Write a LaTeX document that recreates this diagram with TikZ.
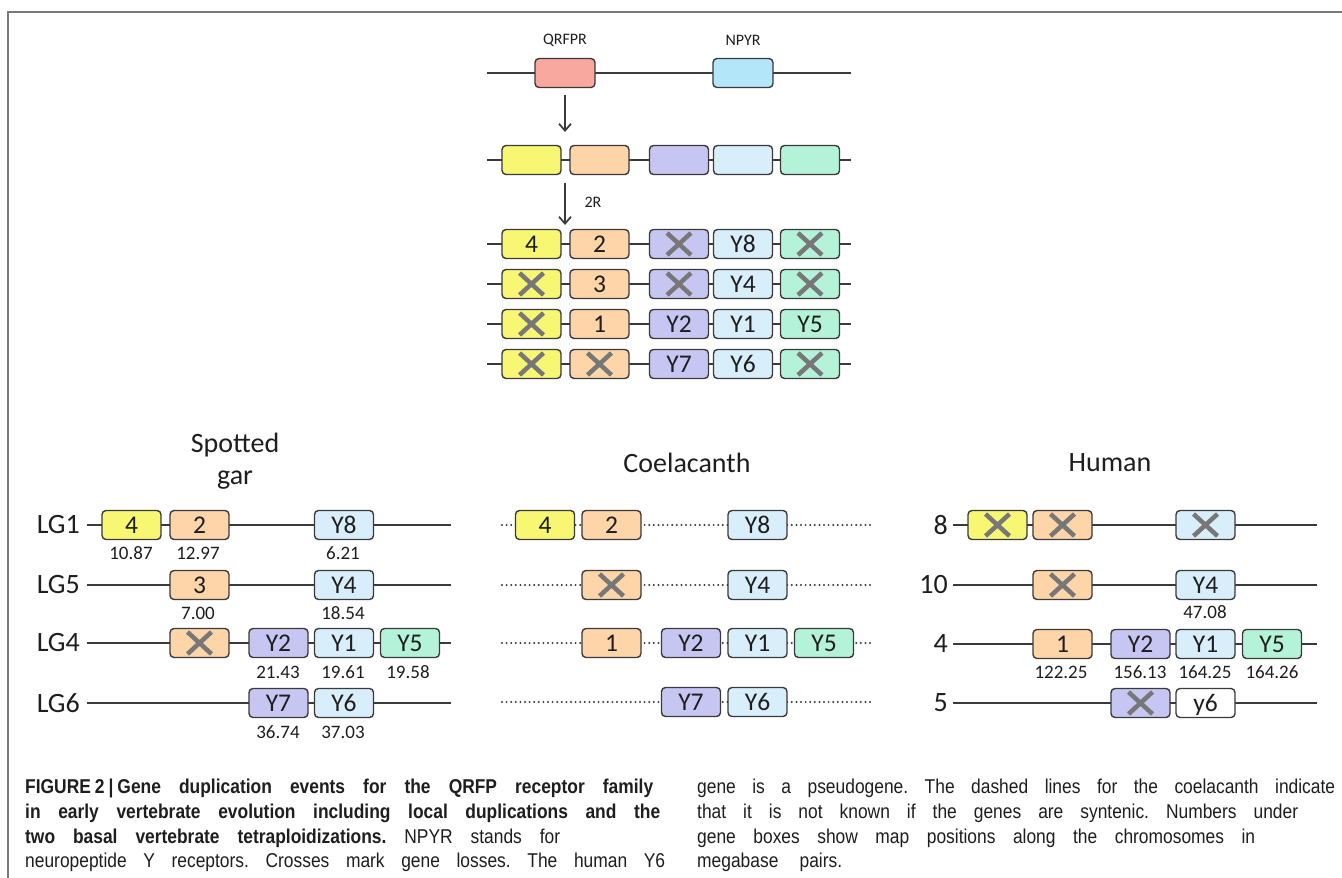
\documentclass[tikz,border=0pt]{standalone}
\usepackage{fontspec}
\setmainfont{Carlito}
\newfontfamily\capfont[FakeStretch=0.87]{Liberation Sans}
\usetikzlibrary{arrows.meta}
\definecolor{cyel}{HTML}{F8F774}
\definecolor{corg}{HTML}{FDD5A9}
\definecolor{cpur}{HTML}{C7C6F2}
\definecolor{cblu}{HTML}{D9EEFB}
\definecolor{cgrn}{HTML}{B4F3DA}
\definecolor{cqr}{HTML}{F9A8A0}
\definecolor{cnp}{HTML}{B3E6F9}
\definecolor{cline}{HTML}{3A3A3A}
\definecolor{xgray}{HTML}{777777}
\definecolor{ctext}{HTML}{1E1E1E}
\definecolor{cframe}{HTML}{7A7A7A}
\begin{document}
\frenchspacing
\begin{tikzpicture}[x=1pt,y=-1pt,
  gene/.style={draw=cline, line width=1.4pt, rounded corners=4pt,
    minimum width=59pt, minimum height=29pt, inner sep=0pt, text=ctext,
    font=\fontsize{25.5}{25.5}\selectfont, text height=16pt, text depth=0pt},
  gone/.style={path picture={
    \draw[line width=4.5pt, draw=xgray]
      ([xshift=-12pt,yshift=-11pt]path picture bounding box.center) --
      ([xshift=12pt,yshift=11pt]path picture bounding box.center)
      ([xshift=-12pt,yshift=11pt]path picture bounding box.center) --
      ([xshift=12pt,yshift=-11pt]path picture bounding box.center);}},
  chrom/.style={draw=cline, line width=1.5pt},
  dotchrom/.style={draw=cline, line width=2.2pt, line cap=round,
    dash pattern=on 0pt off 4.6pt},
  arr/.style={draw=cline, line width=1.7pt, -{Straight Barb[length=7pt,width=12pt,line width=1.7pt]}},
  small/.style={font=\fontsize{16}{16}\selectfont, text=ctext, inner sep=0pt},
  num/.style={font=\fontsize{19}{19}\selectfont, text=ctext, inner sep=0pt},
  big/.style={font=\fontsize{28}{32}\selectfont, text=ctext, inner sep=0pt},
  capline/.style={font=\capfont\fontsize{20}{22}\selectfont, text=ctext, inner sep=0pt, anchor=base west}
]
\useasboundingbox (0,0) rectangle (1342,878);
\fill[white] (0,0) rectangle (1342,878);
% frame
\draw[cframe, line width=2pt] (8,878) -- (8,12) -- (1342,12);

% ---------- top: ancestral ----------
\node[small] (lq) at (565,40) {QRFPR};
\node[small] (ln) at (743,40) {NPYR};
\coordinate (t0s) at (487,73); \coordinate (t0e) at (851,73);
\draw[chrom] (t0s) -- (t0e);
\node[gene, fill=cqr, minimum width=60pt] (qr) at (565,73) {};
\node[gene, fill=cnp, minimum width=60pt] (np) at (743,73) {};

\coordinate (a1s) at (565,95); \coordinate (a1e) at (565,132);
\draw[arr] (a1s) -- (a1e);

% local duplication row
\coordinate (t1s) at (487,160); \coordinate (t1e) at (851,160);
\draw[chrom] (t1s) -- (t1e);
\node[gene, fill=cyel] (d1) at (531.5,160) {};
\node[gene, fill=corg] (d2) at (599.5,160) {};
\node[gene, fill=cpur] (d3) at (679,160) {};
\node[gene, fill=cblu] (d4) at (743,160) {};
\node[gene, fill=cgrn] (d5) at (810,160) {};

\coordinate (a2s) at (565,183); \coordinate (a2e) at (565,225);
\draw[arr] (a2s) -- (a2e);
\node[small] (l2r) at (593,202) {2R};

% 2R rows
\coordinate (r1s) at (487,244); \coordinate (r1e) at (851,244);
\draw[chrom] (r1s) -- (r1e);
\node[gene, fill=cyel] (a11) at (531.5,244) {4};
\node[gene, fill=corg] (a12) at (599.5,244) {2};
\node[gene, fill=cpur, gone] (a13) at (679,244) {};
\node[gene, fill=cblu] (a14) at (743,244) {Y8};
\node[gene, fill=cgrn, gone] (a15) at (810,244) {};

\coordinate (r2s) at (487,284); \coordinate (r2e) at (851,284);
\draw[chrom] (r2s) -- (r2e);
\node[gene, fill=cyel, gone] (a21) at (531.5,284) {};
\node[gene, fill=corg] (a22) at (599.5,284) {3};
\node[gene, fill=cpur, gone] (a23) at (679,284) {};
\node[gene, fill=cblu] (a24) at (743,284) {Y4};
\node[gene, fill=cgrn, gone] (a25) at (810,284) {};

\coordinate (r3s) at (487,324); \coordinate (r3e) at (851,324);
\draw[chrom] (r3s) -- (r3e);
\node[gene, fill=cyel, gone] (a31) at (531.5,324) {};
\node[gene, fill=corg] (a32) at (599.5,324) {1};
\node[gene, fill=cpur] (a33) at (679,324) {Y2};
\node[gene, fill=cblu] (a34) at (743,324) {Y1};
\node[gene, fill=cgrn] (a35) at (810,324) {Y5};

\coordinate (r4s) at (487,364); \coordinate (r4e) at (851,364);
\draw[chrom] (r4s) -- (r4e);
\node[gene, fill=cyel, gone] (a41) at (531.5,364) {};
\node[gene, fill=corg, gone] (a42) at (599.5,364) {};
\node[gene, fill=cpur] (a43) at (679,364) {Y7};
\node[gene, fill=cblu] (a44) at (743,364) {Y6};
\node[gene, fill=cgrn, gone] (a45) at (810,364) {};

% ---------- Spotted gar ----------
\node[big, align=center] (tgar) at (235,461) {Spotted\\gar};
\node[big, anchor=east] (lg1) at (80,525) {LG1};
\node[big, anchor=east] (lg5) at (80,585) {LG5};
\node[big, anchor=east] (lg4) at (80,643) {LG4};
\node[big, anchor=east] (lg6) at (80,703) {LG6};

\coordinate (g1s) at (87,525); \coordinate (g1e) at (451,525);
\draw[chrom] (g1s) -- (g1e);
\node[gene, fill=cyel] (g11) at (131.5,525) {4};
\node[gene, fill=corg] (g12) at (199.5,525) {2};
\node[gene, fill=cblu] (g14) at (344,525) {Y8};
\node[num] (n11) at (131,553) {10.87};
\node[num] (n12) at (198,553) {12.97};
\node[num] (n14) at (343,553) {6.21};

\coordinate (g2s) at (87,585); \coordinate (g2e) at (451,585);
\draw[chrom] (g2s) -- (g2e);
\node[gene, fill=corg] (g22) at (199.5,585) {3};
\node[gene, fill=cblu] (g24) at (344,585) {Y4};
\node[num] (n22) at (198,613) {7.00};
\node[num] (n24) at (343,613) {18.54};

\coordinate (g3s) at (87,643); \coordinate (g3e) at (451,643);
\draw[chrom] (g3s) -- (g3e);
\node[gene, fill=corg, gone] (g32) at (199.5,643) {};
\node[gene, fill=cpur] (g33) at (278.5,643) {Y2};
\node[gene, fill=cblu] (g34) at (344,643) {Y1};
\node[gene, fill=cgrn] (g35) at (410,643) {Y5};
\node[num] (n33) at (278,672) {21.43};
\node[num] (n34) at (343,672) {19.61};
\node[num] (n35) at (408,672) {19.58};

\coordinate (g4s) at (87,703); \coordinate (g4e) at (451,703);
\draw[chrom] (g4s) -- (g4e);
\node[gene, fill=cpur] (g43) at (278.5,703) {Y7};
\node[gene, fill=cblu] (g44) at (344,703) {Y6};
\node[num] (n43) at (278,732) {36.74};
\node[num] (n44) at (343,732) {37.03};

% ---------- Coelacanth ----------
\node[big] (tcoe) at (687,463) {Coelacanth};
\coordinate (c1s) at (502,525); \coordinate (c1e) at (873,525);
\draw[dotchrom] (c1s) -- (c1e);
\node[gene, fill=cyel] (c11) at (545,525) {4};
\node[gene, fill=corg] (c12) at (611.5,525) {2};
\node[gene, fill=cblu] (c14) at (757.5,525) {Y8};

\coordinate (c2s) at (502,585); \coordinate (c2e) at (873,585);
\draw[dotchrom] (c2s) -- (c2e);
\node[gene, fill=corg, gone] (c22) at (611.5,585) {};
\node[gene, fill=cblu] (c24) at (757.5,585) {Y4};

\coordinate (c3s) at (502,643); \coordinate (c3e) at (873,643);
\draw[dotchrom] (c3s) -- (c3e);
\node[gene, fill=corg] (c32) at (611.5,643) {1};
\node[gene, fill=cpur] (c33) at (691,643) {Y2};
\node[gene, fill=cblu] (c34) at (757.5,643) {Y1};
\node[gene, fill=cgrn] (c35) at (824,643) {Y5};

\coordinate (c4s) at (502,702); \coordinate (c4e) at (873,702);
\draw[dotchrom] (c4s) -- (c4e);
\node[gene, fill=cpur] (c43) at (691,702) {Y7};
\node[gene, fill=cblu] (c44) at (757.5,702) {Y6};

% ---------- Human ----------
\node[big] (thum) at (1110,463) {Human};
\node[big, anchor=east] (h8) at (948,525) {8};
\node[big, anchor=east] (h10) at (948,585) {10};
\node[big, anchor=east] (h4) at (948,644) {4};
\node[big, anchor=east] (h5) at (948,703) {5};

\coordinate (h1s) at (953,525); \coordinate (h1e) at (1317,525);
\draw[chrom] (h1s) -- (h1e);
\node[gene, fill=cyel, gone] (h11) at (997.5,525) {};
\node[gene, fill=corg, gone] (h12) at (1062.5,525) {};
\node[gene, fill=cblu, gone] (h14) at (1205.5,525) {};

\coordinate (h2s) at (953,585); \coordinate (h2e) at (1317,585);
\draw[chrom] (h2s) -- (h2e);
\node[gene, fill=corg, gone] (h22) at (1062.5,585) {};
\node[gene, fill=cblu] (h24) at (1205.5,585) {Y4};
\node[num] (m24) at (1205,612) {47.08};

\coordinate (h3s) at (953,644); \coordinate (h3e) at (1317,644);
\draw[chrom] (h3s) -- (h3e);
\node[gene, fill=corg] (h32) at (1062.5,644) {1};
\node[gene, fill=cpur] (h33) at (1140.5,644) {Y2};
\node[gene, fill=cblu] (h34) at (1205.5,644) {Y1};
\node[gene, fill=cgrn] (h35) at (1272,644) {Y5};
\node[num] (m32) at (1061,672) {122.25};
\node[num] (m33) at (1140,672) {156.13};
\node[num] (m34) at (1205,672) {164.25};
\node[num] (m35) at (1272,672) {164.26};

\coordinate (h4s) at (953,703); \coordinate (h4e) at (1317,703);
\draw[chrom] (h4s) -- (h4e);
\node[gene, fill=cpur, gone] (h43) at (1140.5,703) {};
\node[gene, fill=white] (h44) at (1205.5,703) {y6};

% ---------- caption ----------
\node[capline] (cp1) at (25,793) {\makebox[628pt][s]{\bfseries FIGURE\kern4pt 2\kern4pt |\kern4pt Gene duplication events for the QRFP receptor family}};
\node[capline] (cp2) at (25,818) {\makebox[635pt][s]{\bfseries in early vertebrate evolution including local duplications and the}};
\node[capline] (cp3) at (25,843) {\makebox[535pt][s]{{\bfseries two basal vertebrate tetraploidizations.} NPYR stands for}};
\node[capline] (cp4) at (25,867) {\makebox[640pt][s]{neuropeptide Y receptors. Crosses mark gene losses. The human Y6}};
\node[capline] (cq1) at (697,793) {\makebox[638pt][s]{gene is a pseudogene. The dashed lines for the coelacanth indicate}};
\node[capline] (cq2) at (697,818) {\makebox[601pt][s]{that it is not known if the genes are syntenic. Numbers under}};
\node[capline] (cq3) at (697,843) {\makebox[558pt][s]{gene boxes show map positions along the chromosomes in}};
\node[capline] (cq4) at (697,867) {\makebox[145pt][s]{megabase pairs.}};
\end{tikzpicture}
\end{document}
